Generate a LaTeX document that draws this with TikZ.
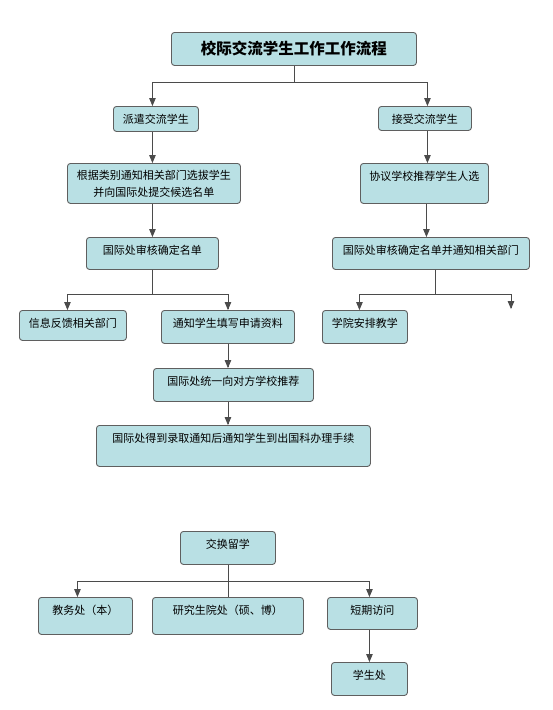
\documentclass[tikz,border=0pt]{standalone}
\usepackage{fontspec}
\newfontfamily\cjk{Noto Sans CJK SC}
\usepackage{tikz}
\usetikzlibrary{arrows}

\definecolor{boxfill}{RGB}{185,224,228}
\definecolor{boxline}{RGB}{95,95,95}
\definecolor{linkline}{RGB}{75,75,75}

\begin{document}
\begin{tikzpicture}[x=1pt,y=-1pt,>=triangle 45,
                    main node/.style={rectangle,rounded corners=3pt,draw=boxline,fill=boxfill,
                      line width=0.9pt,anchor=north west,inner xsep=0pt,inner ysep=0pt,
                      text height=17pt,font=\cjk\fontsize{11}{17}\selectfont},
                    link/.style={draw=linkline,line width=0.8pt}]
  \useasboundingbox (0,0) rectangle (553,710);

  % upper flow
  \node[main node,minimum width=245pt,text height={},text depth={},minimum height=33pt,
        font=\cjk\bfseries\fontsize{15.5}{18}\selectfont] (1) at (171,32) {校际交流学生工作工作流程};
  \node[main node,minimum width=85pt,text depth=8pt]   (2) at (113,106) {派遣交流学生};
  \node[main node,minimum width=93pt,text depth=7pt]   (3) at (378,106) {接受交流学生};
  \node[main node,minimum width=173pt,text height={},text depth={},minimum height=40pt,
        align=center] (4) at (67,163) {根据类别通知相关部门选拔学生\\并向国际处提交候选名单};
  \node[main node,minimum width=128pt,text depth=23pt] (5) at (360,163) {协议学校推荐学生人选};
  \node[main node,minimum width=132pt,text depth=15pt] (6) at (86,237) {国际处审核确定名单};
  \node[main node,minimum width=197pt,text depth=15pt] (7) at (332,237) {国际处审核确定名单并通知相关部门};
  \node[main node,minimum width=107pt,text depth=13pt] (8) at (19,310) {信息反馈相关部门};
  \node[main node,minimum width=133pt,text depth=16pt] (9) at (161,310) {通知学生填写申请资料};
  \node[main node,minimum width=85pt,text depth=16pt]  (10) at (322,310) {学院安排教学};
  \node[main node,minimum width=160pt,text depth=16pt] (11) at (153,368) {国际处统一向对方学校推荐};
  \node[main node,minimum width=274pt,text depth=24pt] (12) at (96,425) {国际处得到录取通知后通知学生到出国科办理手续};
  \coordinate (empty) at (511,309);

  % exchange part
  \node[main node,minimum width=95pt,text depth=16pt]  (13) at (180,531) {交换留学};
  \node[main node,minimum width=94pt,text depth=20pt]  (14) at (38,597) {教务处（本）};
  \node[main node,minimum width=151pt,text depth=20pt] (15) at (152,597) {研究生院处（硕、博）};
  \node[main node,minimum width=90pt,text depth=15pt]  (16) at (327,597) {短期访问};
  \node[main node,minimum width=76pt,text depth=16pt]  (17) at (331,662) {学生处};

  \draw[link,->] (1.south) -- ++(0,16) -| ([xshift=-3.5pt]2.north);
  \draw[link,->] (1.south) -- ++(0,16) -| ([xshift=2.5pt]3.north);
  \draw[link,->] ([xshift=-3.5pt]2.south) -- ([xshift=-3.5pt]2.south |- 4.north);
  \draw[link,->] ([xshift=2.5pt]3.south) -- ([xshift=2.5pt]3.south |- 5.north);
  \draw[link,->] ([xshift=-1.5pt]4.south) -- ([xshift=-1.5pt]4.south |- 6.north);
  \draw[link,->] ([xshift=2pt]5.south) -- ([xshift=2pt]5.south |- 7.north);
  \draw[link,->] (6.south) -- ++(0,24) -| ([xshift=-5.5pt]8.north);
  \draw[link,->] (6.south) -- ++(0,24) -| (9.north);
  \draw[link,->] ([xshift=4.5pt]7.south) -- ++(0,24) -| ([xshift=-5.5pt]10.north);
  \draw[link,->] ([xshift=4.5pt]7.south) -- ++(0,24) -| (empty);
  \draw[link,->] (9.south) -- (9.south |- 11.north);
  \draw[link,->] (9.south |- 11.south) -- (9.south |- 12.north);

  \draw[link,->] (13.south) -- ++(0,16) -| ([xshift=-8pt]14.north);
  \draw[link,->] (13.south) -- ++(0,16) -| ([xshift=-3pt]16.north);
  \draw[link] (13.south) -- (15.north);
  \draw[link,->] ([xshift=-3pt]16.south) -- ([xshift=-3pt]16.south |- 17.north);
\end{tikzpicture}
\end{document}
